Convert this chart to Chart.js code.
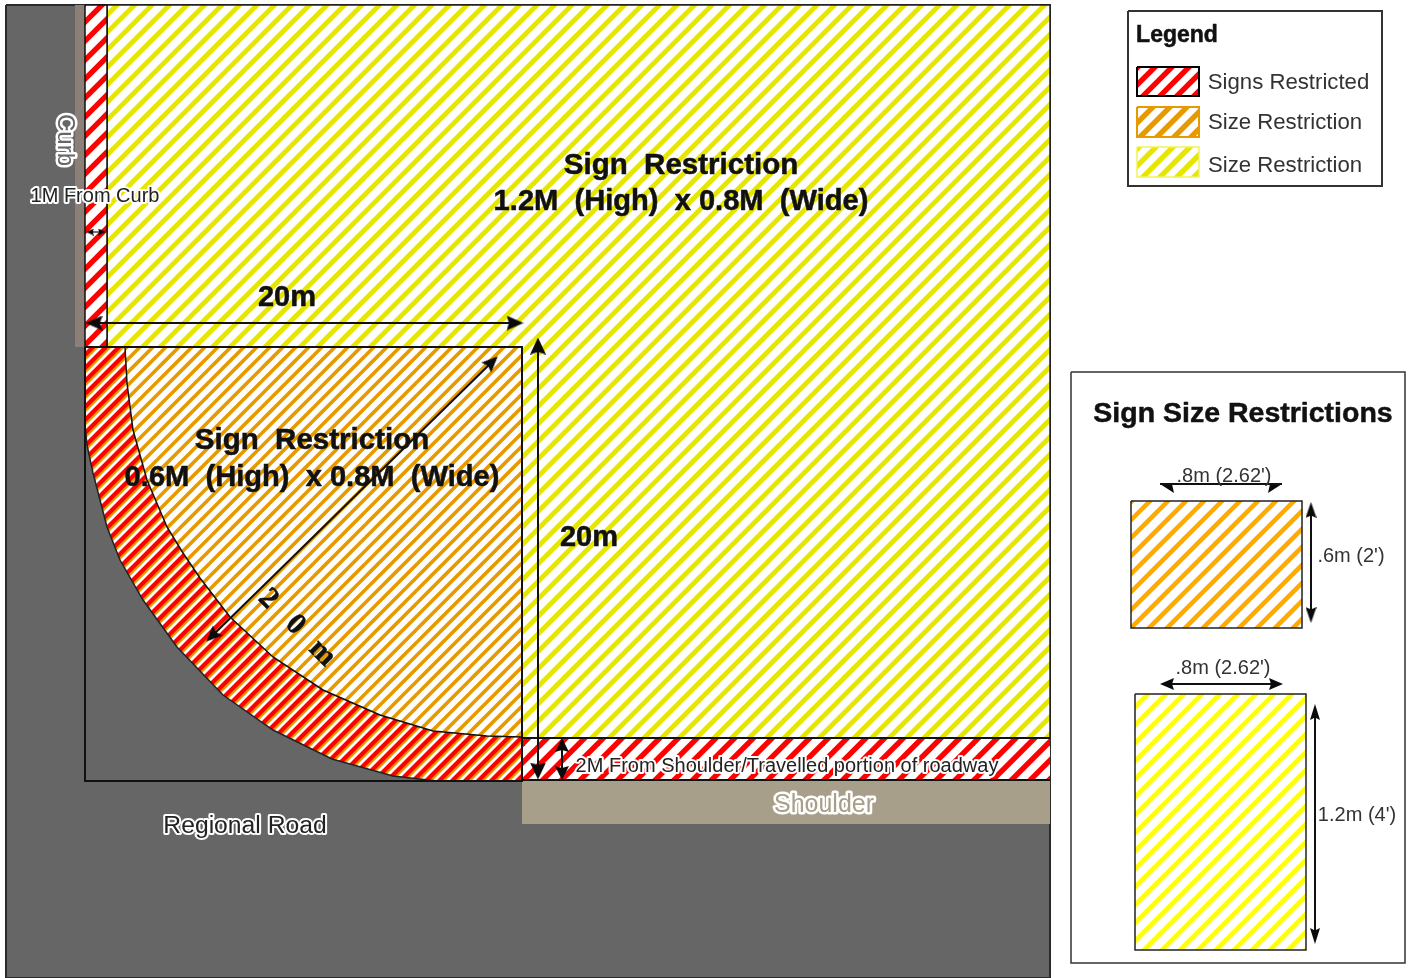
<!DOCTYPE html>
<html><head><meta charset="utf-8">
<style>html,body{margin:0;padding:0;background:#fff;overflow:hidden}canvas{display:block;filter:blur(.45px)}</style>
<script src="https://cdn.jsdelivr.net/npm/chart.js@4"></script></head>
<body><canvas id="c" width="1414" height="978"></canvas>
<script>
// Diagram geometry (axis units = reference pixels)
const roadArea=[[6,5],[1050,5],[1050,978],[6,978],[6,5]];
const curbStrip=[[75,5],[85,5],[85,347],[75,347],[75,5]];
const shoulderStrip=[[522,781],[1050,781],[1050,824],[522,824],[522,781]];
const yellowZone=[[107,5],[1050,5],[1050,738],[522,738],[522,347],[107,347],[107,5]];
const curbRedZone=[[85,5],[107,5],[107,347],[85,347],[85,5]];
const roadRedZone=[[522,738],[1050,738],[1050,780],[522,780],[522,738]];
const innerCurve=[[125,347],[127,383],[133,430],[147,480],[167,527],[183,553],[200,578],[230,617],[273,657],[323,690],[380,715],[433,731],[487,736],[522,737]];
const outerCurve=[[437,781],[393,776],[332,759],[273,730],[223,695],[177,647],[143,600],[120,560],[107,527],[93,473],[87,445],[85,425]];
const orangeZone=[[522,347],[522,737]].concat(innerCurve.slice().reverse().slice(1),[[522,347]]);
const overlapZone=[[85,347]].concat(innerCurve,[[522,781]],outerCurve,[[85,347]]);
const cornerFrame=[[85,347],[522,347],[522,781],[85,781],[85,347]];
const legendBox=[[1128,11],[1382,11],[1382,186],[1128,186],[1128,11]];
const swatchRed=[[1137,67],[1199,67],[1199,96],[1137,96],[1137,67]];
const swatchOrange=[[1137,107],[1199,107],[1199,137],[1137,137],[1137,107]];
const swatchYellow=[[1137,147],[1199,147],[1199,177],[1137,177],[1137,147]];
const sizesBox=[[1071,372],[1405,372],[1405,963],[1071,963],[1071,372]];
const signOrange=[[1131,501],[1302,501],[1302,628],[1131,628],[1131,501]];
const signYellow=[[1135,694],[1306,694],[1306,950],[1135,950],[1135,694]];
const roadLines=[[[522,738],[1050,738]],[[522,780],[1050,780]]];
const dimMask=[[1155,468],[1290,468],[1290,484],[1155,484],[1155,468]];
// Dimension arrows: from, to, head width, head length, line width
const arrowsBelowMask=[[[1167,484],[1275,484],18,14,2]];
const arrows=[
 [[94,323],[515,323],15,17,2],[[538,346],[538,771],16,17,2],[[492,362],[212,636],14,16,2],
 [[90,232],[102,232],7,8,1.2],[[562,745],[562,773],14,14,2],
 [[1167,684],[1276,684],12,14,2],
 [[1311,510],[1311,615],11,16,2],[[1315,712],[1315,936],10,16,2]
];
// Text: string, x, y, font, colour, halo width, rotation
const labels=[
 ["Sign  Restriction",681,166,"bold 29.5px 'Liberation Sans'","#111",0,0],
 ["1.2M  (High)  x 0.8M  (Wide)",681,202,"bold 29.1px 'Liberation Sans'","#111",0,0],
 ["Sign  Restriction",312,441,"bold 29.5px 'Liberation Sans'","#111",0,0],
 ["0.6M  (High)  x 0.8M  (Wide)",312,478,"bold 29.1px 'Liberation Sans'","#111",0,0],
 ["20m",287,298,"bold 29px 'Liberation Sans'","#111",0,0],
 ["20m",589,538,"bold 29px 'Liberation Sans'","#111",0,0],
 ["2",268,599,"bold 30px 'Liberation Serif'","#111",0,45],
 ["0",295,625,"bold 30px 'Liberation Serif'","#111",0,45],
 ["m",322,653,"bold 30px 'Liberation Serif'","#111",0,45],
 ["Curb",65,140,"24px 'Liberation Sans'","#666",5,90],
 ["1M From Curb",95,196,"20px 'Liberation Sans'","#222",4,0],
 ["2M From Shoulder/Travelled portion of roadway",787,766,"20px 'Liberation Sans'","#222",4,0],
 ["Shoulder",824,805,"25px 'Liberation Sans'","#a89f8a",5,0],
 ["Regional Road",245,826,"24.7px 'Liberation Sans'","#222",4,0],
 ["Legend",1177,36,"bold 23px 'Liberation Sans'","#111",0,0],
 ["Signs Restricted",1288.5,83,"22.2px 'Liberation Sans'","#333",0,0],
 ["Size Restriction",1285,123,"22.2px 'Liberation Sans'","#333",0,0],
 ["Size Restriction",1285,166,"22.2px 'Liberation Sans'","#333",0,0],
 ["Sign Size Restrictions",1243,414,"bold 28.5px 'Liberation Sans'","#111",0,0],
 [".8m (2.62')",1224,476,"20px 'Liberation Sans'","#333",0,0],
 [".8m (2.62')",1223,668,"20px 'Liberation Sans'","#333",0,0],
 [".6m (2')",1351,556,"20px 'Liberation Sans'","#333",0,0],
 ["1.2m (4')",1357,815,"20px 'Liberation Sans'","#333",0,0]
];

// Hatch tile: colours as [colour, x+y phase, line width], repeating every `period` along x and y
function stripes(layers,period){
  const T=Math.round(period*4);
  const t=document.createElement('canvas');t.width=T;t.height=T;
  const g=t.getContext('2d');g.fillStyle='#fff';g.fillRect(0,0,T,T);
  const step=T/4;
  layers.forEach(([col,phase,lw])=>{
    g.strokeStyle=col;g.lineWidth=lw;
    const p0=((phase%step)+step)%step;
    for(let c=p0-2*step;c<=2*T+2*step;c+=step){g.beginPath();g.moveTo(c+20,-20);g.lineTo(-20,c+20);g.stroke();}
  });
  return g.createPattern(t,'repeat');
}
const patYellow=stripes([['#e6e600',122,4.8]],17.5);
const patCurbRed=stripes([['#ff0000',107,5.4]],19);
const patRoadRed=stripes([['#ff0000',1754,5.4]],18.75);
const patOrange=stripes([['#e69a00',1098,3.7]],13);
const patBand=stripes([['#e69a00',1211,3],['#ff0000',1207,4.2]],13);
const patSignOrange=stripes([['#ffaa00',1651,4.5]],18);
const patSignYellow=stripes([['#ffff00',1842,4.5]],18);
const patSwRed=stripes([['#ff0000',1222,5.4]],17);
const patSwOrange=stripes([['#e69a00',1260,5.4]],17);
const patSwYellow=stripes([['#e6e600',1303,5.4]],17);

function headImage(w,l){
  const t=document.createElement('canvas');t.width=w;t.height=l;
  const g=t.getContext('2d');g.fillStyle='#0a0a0a';g.beginPath();g.moveTo(w/2,0);g.lineTo(w,l);g.lineTo(w/2,l*.85);g.lineTo(0,l);g.closePath();g.fill();
  return t;
}
const pts=a=>a.map(([x,y])=>({x,y}));
const ds=(arr,fill,stroke,width)=>({data:pts(arr),showLine:true,pointRadius:0,tension:0,clip:false,
  fill:fill?'shape':false,backgroundColor:fill||'transparent',borderColor:stroke||'transparent',borderWidth:stroke?(width||1.5):0,borderJoinStyle:'miter'});
const arrowDs=([a,b,w,l,lw])=>{
  const ang=Math.atan2(b[0]-a[0],a[1]-b[1])*180/Math.PI;
  return {data:pts([a,b]),showLine:true,tension:0,clip:false,fill:false,borderColor:'#111',borderWidth:lw,
    pointStyle:headImage(w,l),pointRadius:Math.max(w,l)/2,pointHoverRadius:Math.max(w,l)/2,pointBorderWidth:0,pointRotation:[ang+180,ang]};
};
const datasets=[
 ds(roadArea,'#666666','#2a2a2a',2),
 ds(curbStrip,'#8c7f77'),
 ds(shoulderStrip,'#a89f8a'),
 ds(yellowZone,patYellow,'#222',1.5),
 ds(curbRedZone,patCurbRed,'#111',1.5),
 ds(roadRedZone,patRoadRed),
 ds(overlapZone,patBand),
 ds(orangeZone,patOrange),
 ds(innerCurve,null,'#111',1.5),
 ds(outerCurve,null,'#222',1.5),
 ds(cornerFrame,null,'#111',2),
 ds(legendBox,'#fff','#333',2),
 ds(swatchRed,patSwRed,'#000',2),
 ds(swatchOrange,patSwOrange,'#e69a00',2),
 ds(swatchYellow,patSwYellow,'#f2f25a',1.5),
 ds(sizesBox,'#fff','#333',1.5),
 ds(signOrange,patSignOrange,'#222',1.5),
 ds(signYellow,patSignYellow,'#222',1.5)
];
roadLines.forEach(l=>datasets.push(ds(l,null,'#111',2)));
arrowsBelowMask.forEach(a=>datasets.push(arrowDs(a)));
datasets.push(ds(dimMask,'#fff'));
datasets.push(ds([[1160,484],[1282,484]],null,'#111',2));
arrows.forEach(a=>datasets.push(arrowDs(a)));
datasets.reverse(); // Chart.js paints the last dataset first
const textPlugin={id:'texts',afterDatasetsDraw(ch){
  const c=ch.ctx,X=ch.scales.x,Y=ch.scales.y;
  labels.forEach(([s,x,y,f,col,halo,rot])=>{
    c.save();c.translate(X.getPixelForValue(x),Y.getPixelForValue(y));c.rotate(rot*Math.PI/180);
    c.font=f;c.textAlign='center';c.textBaseline='middle';c.lineJoin='round';
    if(halo){c.strokeStyle='#fff';c.lineWidth=halo;c.strokeText(s,0,0);}
    if(f.startsWith('bold')){c.strokeStyle=col;c.lineWidth=.5;c.strokeText(s,0,0);}
    c.fillStyle=col;c.fillText(s,0,0);c.restore();
  });
}};
new Chart(document.getElementById('c'),{type:'scatter',data:{datasets},plugins:[textPlugin],options:{
  responsive:false,animation:false,devicePixelRatio:1,events:[],layout:{padding:0,autoPadding:false},
  plugins:{legend:{display:false},tooltip:{enabled:false},title:{display:false}},
  scales:{x:{type:'linear',min:0,max:1414,display:false},y:{type:'linear',min:0,max:978,reverse:true,display:false}}
}});
</script></body></html>
